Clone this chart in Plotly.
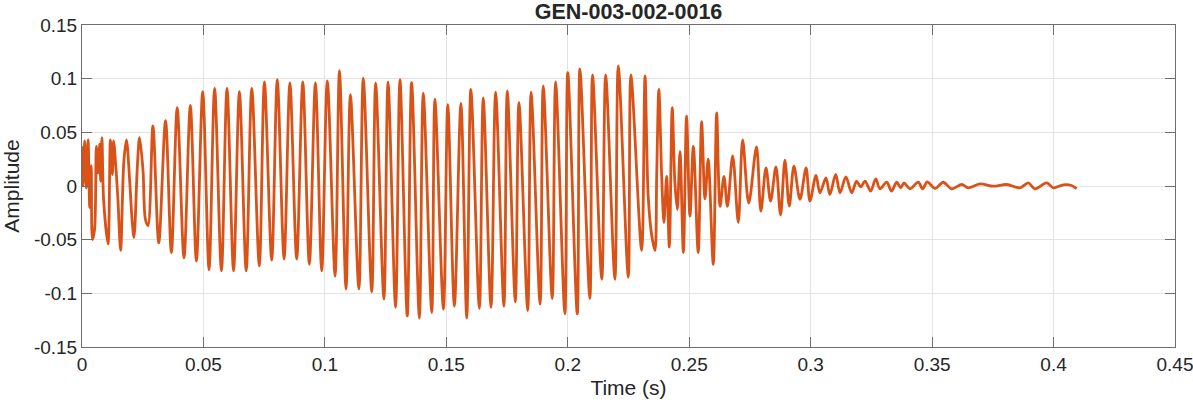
import plotly.graph_objects as go

# Local extrema of the waveform (time in s, amplitude)
time_s = [
    0.0000, 0.0004, 0.0011, 0.0018, 0.0025, 0.0032, 0.0038, 0.0043, 0.0052, 0.0059,
    0.0066, 0.0073, 0.0077, 0.0082, 0.0089, 0.0107, 0.0117, 0.0125, 0.0130, 0.0139,
    0.0148, 0.0159, 0.0172, 0.0183, 0.0196, 0.0206, 0.0214, 0.0228, 0.0237, 0.0251,
    0.0261, 0.0272, 0.0292, 0.0316, 0.0344, 0.0368, 0.0392, 0.0420, 0.0446, 0.0471,
    0.0497, 0.0523, 0.0546, 0.0574, 0.0597, 0.0624, 0.0648, 0.0676, 0.0699, 0.0730,
    0.0751, 0.0781, 0.0804, 0.0832, 0.0856, 0.0884, 0.0909, 0.0936, 0.0961, 0.0987,
    0.1010, 0.1042, 0.1060, 0.1087, 0.1105, 0.1140, 0.1158, 0.1193, 0.1209, 0.1243,
    0.1260, 0.1291, 0.1309, 0.1339, 0.1357, 0.1389, 0.1405, 0.1440, 0.1453, 0.1488,
    0.1506, 0.1533, 0.1560, 0.1584, 0.1601, 0.1636, 0.1652, 0.1684, 0.1703, 0.1737,
    0.1751, 0.1784, 0.1799, 0.1835, 0.1849, 0.1886, 0.1899, 0.1936, 0.1950, 0.1988,
    0.2000, 0.2039, 0.2050, 0.2091, 0.2102, 0.2140, 0.2156, 0.2194, 0.2208, 0.2249,
    0.2260, 0.2304, 0.2318, 0.2331, 0.2345, 0.2359, 0.2366, 0.2375, 0.2387, 0.2396,
    0.2407, 0.2418, 0.2430, 0.2441, 0.2451, 0.2462, 0.2476, 0.2489, 0.2503, 0.2517,
    0.2537, 0.2551, 0.2565, 0.2578, 0.2599, 0.2613, 0.2627, 0.2643, 0.2657, 0.2679,
    0.2702, 0.2720, 0.2745, 0.2777, 0.2795, 0.2816, 0.2835, 0.2857, 0.2876, 0.2894,
    0.2912, 0.2931, 0.2956, 0.2981, 0.2997, 0.3022, 0.3038, 0.3063, 0.3079, 0.3103,
    0.3121, 0.3145, 0.3169, 0.3189, 0.3206, 0.3224, 0.3247, 0.3268, 0.3285, 0.3313,
    0.3333, 0.3354, 0.3371, 0.3384, 0.3409, 0.3443, 0.3461, 0.3480, 0.3512, 0.3546,
    0.3580, 0.3622, 0.3649, 0.3697, 0.3752, 0.3807, 0.3862, 0.3896, 0.3923, 0.3972,
    0.3999, 0.4040, 0.4074, 0.4095,
]
amplitude = [
    0.037, 0.000, 0.042, -0.002, 0.043, -0.020, 0.019, -0.050, -0.040, 0.037,
    0.012, 0.039, 0.0045, 0.045, -0.013, -0.054, 0.043, 0.0107, 0.042, 0.019,
    -0.013, -0.060, 0.022, 0.043, 0.006, -0.031, -0.048, 0.019, 0.045, 0.015,
    -0.031, -0.037, 0.056, -0.053, 0.061, -0.062, 0.073, -0.067, 0.075, -0.070,
    0.088, -0.078, 0.091, -0.079, 0.091, -0.079, 0.088, -0.079, 0.091, -0.0745,
    0.097, -0.069, 0.099, -0.068, 0.096, -0.068, 0.097, -0.073, 0.096, -0.079,
    0.098, -0.084, 0.1075, -0.096, 0.085, -0.096, 0.1005, -0.0986, 0.096, -0.1054,
    0.097, -0.113, 0.099, -0.121, 0.0964, -0.123, 0.0866, -0.118, 0.081, -0.115,
    0.0757, -0.112, 0.077, -0.123, 0.090, -0.114, 0.082, -0.113, 0.0875, -0.112,
    0.0887, -0.108, 0.078, -0.116, 0.0875, -0.110, 0.0933, -0.105, 0.097, -0.119,
    0.1057, -0.119, 0.109, -0.105, 0.1035, -0.087, 0.1035, -0.087, 0.112, -0.085,
    0.1035, -0.060, 0.1026, -0.009, -0.045, -0.060, 0.009, 0.090, 0.006, -0.034,
    0.009, -0.057, 0.073, 0.003, -0.022, 0.032, -0.062, 0.065, -0.028, 0.037,
    -0.062, 0.060, -0.012, 0.025, -0.073, 0.068, -0.019, 0.009, -0.019, 0.028,
    -0.034, 0.043, -0.016, 0.0364, -0.0234, 0.0169, -0.0141, 0.0178, -0.027, 0.024,
    -0.0187, 0.0184, -0.0125, 0.0169, -0.014, 0.0098, -0.0063, 0.0076, -0.008, 0.0107,
    -0.0063, 0.0085, -0.0063, 0.0045, -0.0008, 0.0045, -0.0048, 0.0067, -0.0026, 0.0035,
    -0.0048, 0.0035, -0.0017, 0.0029, -0.0026, 0.0035, -0.0026, 0.0038, -0.0023, 0.0035,
    -0.0026, 0.0014, -0.0017, 0.0020, -0.0002, 0.0014, -0.0017, 0.0029, -0.0026, 0.0029,
    -0.0017, 0.0011, 0.0005, -0.0025,
]

x_tick_vals = [0, 0.05, 0.1, 0.15, 0.2, 0.25, 0.3, 0.35, 0.4, 0.45]
x_tick_text = ["0", "0.05", "0.1", "0.15", "0.2", "0.25", "0.3", "0.35", "0.4", "0.45"]
y_tick_vals = [-0.15, -0.1, -0.05, 0, 0.05, 0.1, 0.15]
y_tick_text = ["-0.15", "-0.1", "-0.05", "0", "0.05", "0.1", "0.15"]

FONT = "Arial, 'Liberation Sans', Helvetica, sans-serif"
TEXT_COLOR = "#262626"
AXIS_COLOR = "#6e6e6e"
GRID_COLOR = "#e3e3e3"

fig = go.Figure()
fig.add_trace(go.Scatter(
    x=time_s, y=amplitude, mode="lines",
    line=dict(color="#D95319", width=2.8, shape="spline", smoothing=0.9),
    showlegend=False, hoverinfo="skip",
))

axis_common = dict(
    showline=True, linecolor=AXIS_COLOR, linewidth=1, mirror="ticks",
    ticks="inside", ticklen=10, tickwidth=1, tickcolor=AXIS_COLOR,
    showgrid=True, gridcolor=GRID_COLOR, gridwidth=1, zeroline=False,
    tickfont=dict(family=FONT, size=19, color=TEXT_COLOR),
    ticklabeloverflow="allow",
)

fig.update_xaxes(
    range=[0, 0.45], tickmode="array", tickvals=x_tick_vals, ticktext=x_tick_text,
    title=dict(text="Time (s)", font=dict(family=FONT, size=21, color=TEXT_COLOR), standoff=6),
    **axis_common,
)
fig.update_yaxes(
    range=[-0.15, 0.15], tickmode="array", tickvals=y_tick_vals, ticktext=y_tick_text,
    title=dict(text="Amplitude", font=dict(family=FONT, size=21, color=TEXT_COLOR), standoff=10),
    **axis_common,
)

fig.update_layout(
    width=1193, height=404,
    margin=dict(l=82, r=18, t=25, b=57, autoexpand=False),
    paper_bgcolor="white", plot_bgcolor="white",
    title=dict(
        text="<b>GEN-003-002-0016</b>", x=(82 + 1093 / 2) / 1193, xanchor="center",
        y=1 - 11 / 404, yanchor="middle", yref="container",
        font=dict(family=FONT, size=21.5, color=TEXT_COLOR),
    ),
)

# remove the page's default body margin so the figure sits at the window's top-left corner
fig.write_html(
    "out.html",
    config={"displayModeBar": False},
    post_script="document.body.style.margin='0px';",
)
